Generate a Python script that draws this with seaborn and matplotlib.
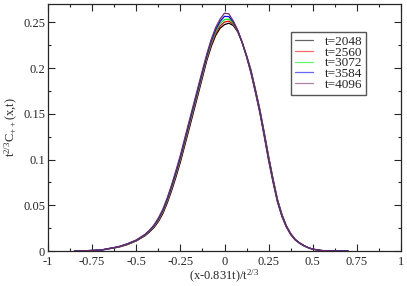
import numpy as np
import pandas as pd
import matplotlib
matplotlib.use("Agg")
import matplotlib.pyplot as plt
import seaborn as sns

# scaled coordinate (x-0.831t)/t^(2/3)
x_vals = [-0.85, -0.8, -0.7, -0.6, -0.55, -0.5, -0.45, -0.425, -0.4, -0.375, -0.35, -0.325, -0.3, -0.275,
          -0.25, -0.2, -0.15, -0.125, -0.1, -0.075, -0.05, -0.025, 0.0, 0.025, 0.05, 0.075, 0.1, 0.125,
          0.15, 0.175, 0.2, 0.225, 0.25, 0.275, 0.3, 0.325, 0.35, 0.375, 0.4, 0.425, 0.45, 0.475,
          0.5, 0.55, 0.6, 0.7]

c_2048 = [0.0, 0.0002, 0.0009, 0.0042, 0.0070, 0.0110, 0.0167, 0.0208, 0.0256, 0.0320, 0.0406, 0.0522, 0.0658, 0.0809,
          0.0972, 0.1338, 0.1708, 0.1897, 0.2084, 0.2235, 0.2356, 0.2435, 0.2475, 0.2490, 0.2465, 0.2395, 0.2280, 0.2138,
          0.1976, 0.1768, 0.1550, 0.1297, 0.1034, 0.0790, 0.0566, 0.0402, 0.0278, 0.0191, 0.0129, 0.0089, 0.0060, 0.0037,
          0.0020, 0.0005, 0.0001, 0.0]
c_2560 = [0.0, 0.0002, 0.00095, 0.0043, 0.0073, 0.0112, 0.0171, 0.0213, 0.0263, 0.0330, 0.0418, 0.0536, 0.0674, 0.0827,
          0.0991, 0.1359, 0.1729, 0.1917, 0.2102, 0.2255, 0.2378, 0.2460, 0.2503, 0.2513, 0.2478, 0.2400, 0.2280, 0.2134,
          0.1968, 0.1759, 0.1540, 0.1286, 0.1022, 0.0780, 0.0558, 0.0396, 0.0274, 0.0188, 0.0127, 0.0088, 0.0059, 0.0036,
          0.0020, 0.0005, 0.0001, 0.0]
c_3072 = [0.0, 0.0002, 0.0010, 0.0045, 0.0075, 0.0115, 0.0175, 0.0218, 0.0270, 0.0340, 0.0430, 0.0550, 0.0690, 0.0845,
          0.1010, 0.1380, 0.1750, 0.1937, 0.2120, 0.2275, 0.2400, 0.2485, 0.2530, 0.2535, 0.2490, 0.2405, 0.2280, 0.2130,
          0.1960, 0.1750, 0.1530, 0.1275, 0.1010, 0.0770, 0.0550, 0.0390, 0.0270, 0.0185, 0.0125, 0.0087, 0.0058, 0.0036,
          0.0020, 0.0005, 0.0001, 0.0]
c_3584 = [0.0, 0.0002, 0.00105, 0.0047, 0.0078, 0.0118, 0.0179, 0.0223, 0.0277, 0.0350, 0.0442, 0.0564, 0.0706, 0.0863,
          0.1029, 0.1401, 0.1771, 0.1957, 0.2138, 0.2295, 0.2422, 0.2510, 0.2565, 0.2562, 0.2502, 0.2410, 0.2280, 0.2126,
          0.1952, 0.1741, 0.1520, 0.1264, 0.0998, 0.0760, 0.0542, 0.0384, 0.0266, 0.0182, 0.0123, 0.0086, 0.0057, 0.0035,
          0.0020, 0.0005, 0.0001, 0.0]
c_4096 = [0.0, 0.0002, 0.0011, 0.0048, 0.0080, 0.0120, 0.0183, 0.0228, 0.0284, 0.0360, 0.0454, 0.0578, 0.0722, 0.0881,
          0.1048, 0.1422, 0.1792, 0.1977, 0.2156, 0.2315, 0.2444, 0.2535, 0.2600, 0.2592, 0.2514, 0.2415, 0.2280, 0.2122,
          0.1944, 0.1732, 0.1510, 0.1253, 0.0986, 0.0750, 0.0534, 0.0378, 0.0262, 0.0179, 0.0121, 0.0085, 0.0056, 0.0035,
          0.0020, 0.0005, 0.0001, 0.0]

labels = ["t=2048", "t=2560", "t=3072", "t=3584", "t=4096"]
series = [c_2048, c_2560, c_3072, c_3584, c_4096]
colors = ["#000000", "#ff0000", "#00ee00", "#0000ff", "#7a2a6a"]

x_ticks = [-1, -0.75, -0.5, -0.25, 0, 0.25, 0.5, 0.75, 1]
x_ticklabels = ["-1", "-0.75", "-0.5", "-0.25", "0", "0.25", "0.5", "0.75", "1"]
y_ticks = [0, 0.05, 0.1, 0.15, 0.2, 0.25]
y_ticklabels = ["0", "0.05", "0.1", "0.15", "0.2", "0.25"]

rows = []
for lab, ys in zip(labels, series):
    for xv, yv in zip(x_vals, ys):
        rows.append({"x": xv, "y": yv, "t": lab})
df = pd.DataFrame(rows)

sns.set_style("ticks")
plt.rcParams["font.family"] = ["Liberation Serif", "DejaVu Serif"]
plt.rcParams["mathtext.fontset"] = "custom"
plt.rcParams["mathtext.rm"] = "Liberation Serif"
plt.rcParams["mathtext.default"] = "regular"

fig = plt.figure(figsize=(4.07, 2.86), dpi=100)
ax = fig.add_axes([48/407, 1-251/286, (401-48)/407, (251-4)/286])

sns.lineplot(data=df, x="x", y="y", hue="t", palette=dict(zip(labels, colors)),
             linewidth=0.9, ax=ax, sort=False, estimator=None)

ax.set_xlim(-1, 1)
ax.set_ylim(0, 0.27)
ax.set_xticks(x_ticks)
ax.set_xticklabels(x_ticklabels)
ax.set_yticks(y_ticks)
ax.set_yticklabels(y_ticklabels)
ax.xaxis.set_minor_locator(matplotlib.ticker.MultipleLocator(0.125))
ax.yaxis.set_minor_locator(matplotlib.ticker.MultipleLocator(0.025))
ax.tick_params(which="both", direction="in", top=True, right=True, labelsize=9, width=0.8)
ax.tick_params(axis="y", pad=2)
ax.tick_params(axis="x", pad=3.5)
ax.tick_params(which="major", length=5)
ax.tick_params(which="minor", length=2.5)
for s in ax.spines.values():
    s.set_linewidth(0.9)

ax.set_xlabel("(x-0.831t)/t$^{2/3}$", fontsize=9, labelpad=0)
ax.set_ylabel("t$^{2/3}$C$_{++}$(x,t)", fontsize=9, labelpad=2)

leg = ax.legend(loc="upper right", bbox_to_anchor=(0.901, 0.887), fontsize=9.5, frameon=True,
                fancybox=False, edgecolor="#555555", framealpha=1, handlelength=1.3,
                handletextpad=0.9, borderpad=0.3, labelspacing=-0.12, borderaxespad=0)
leg.get_frame().set_linewidth(1.0)
for line in leg.get_lines():
    line.set_linewidth(0.9)
    line.set_alpha(0.6)

fig.savefig("out.png", dpi=100)
